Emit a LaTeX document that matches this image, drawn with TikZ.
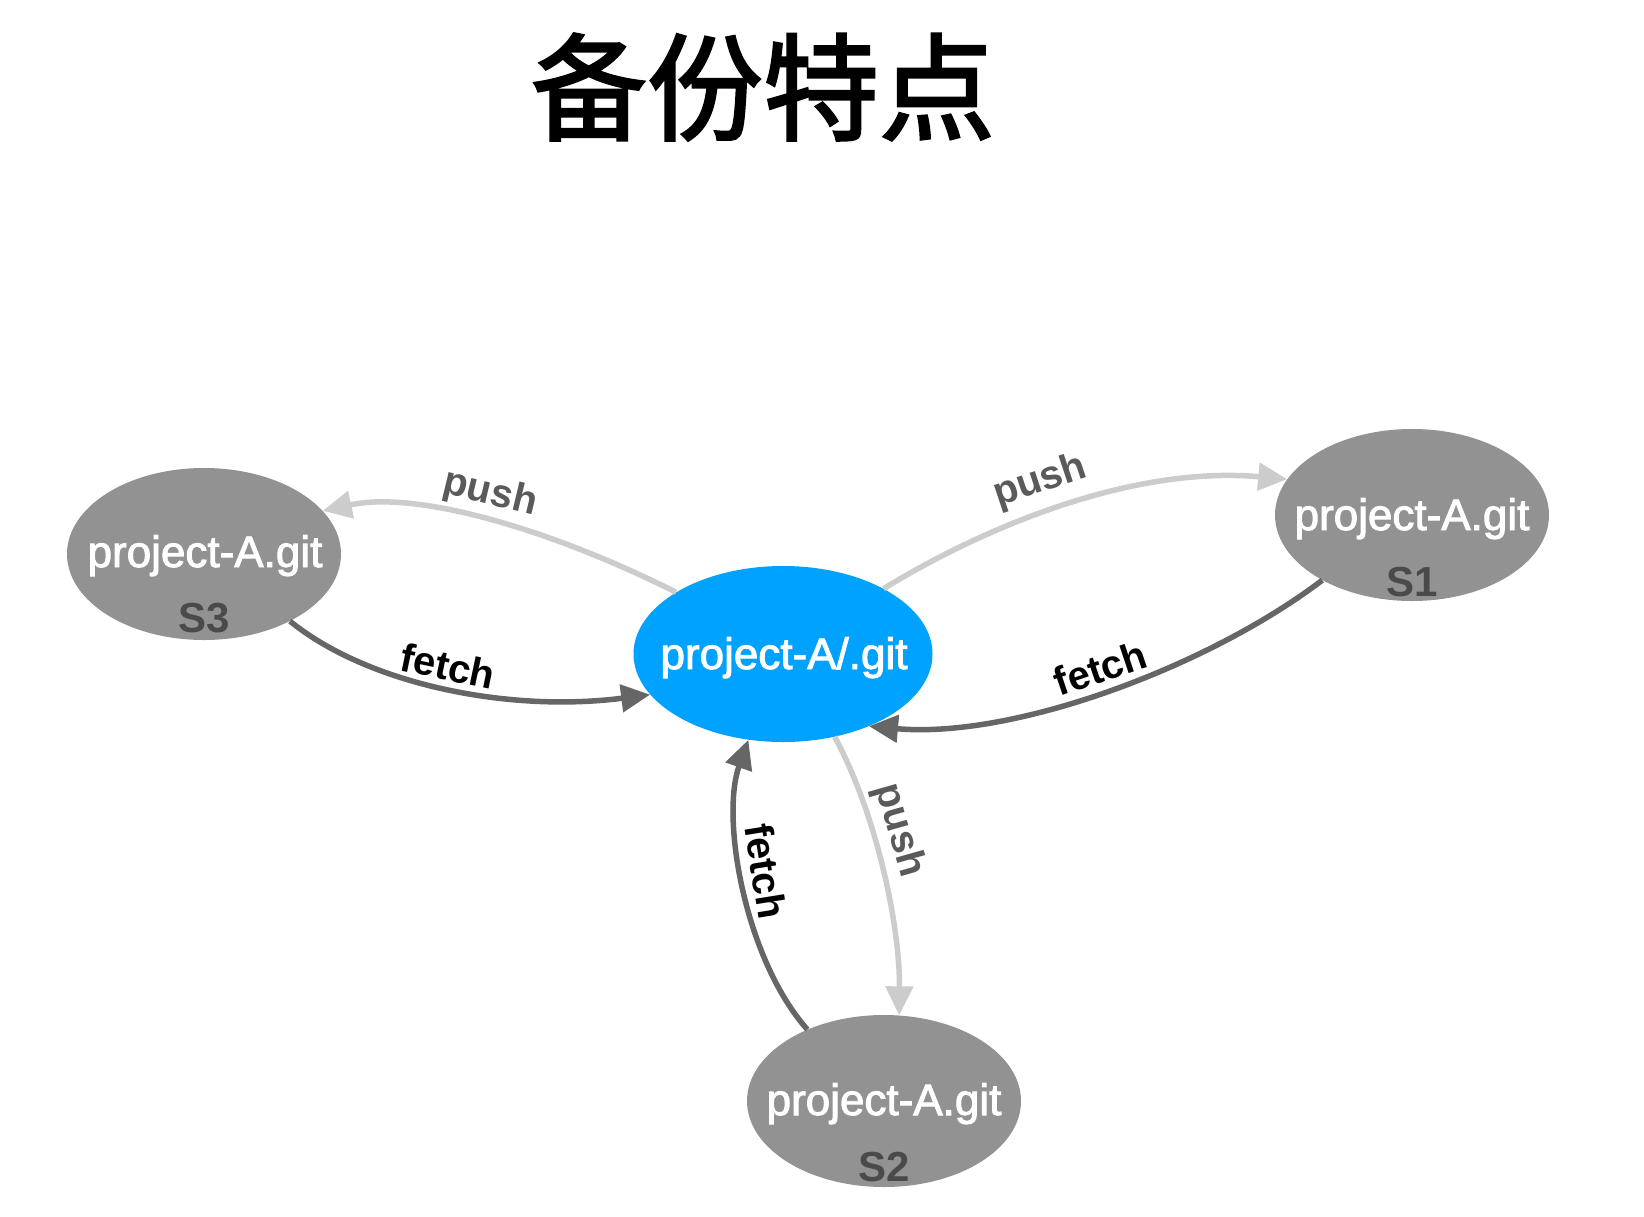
\documentclass[tikz,border=0pt]{standalone}
\usepackage{fontspec}
\setmainfont{Liberation Sans}
\newfontfamily\cjk{Noto Sans CJK SC}[FakeBold=2.2]
\newfontfamily\medsans{Liberation Sans}[FakeBold=2.2]
\usetikzlibrary{shapes.geometric,arrows.meta}
\definecolor{hub}{RGB}{0,162,255}
\definecolor{repo}{RGB}{146,146,146}
\definecolor{slab}{RGB}{74,74,74}
\definecolor{pushline}{RGB}{204,204,204}
\definecolor{pushtext}{RGB}{90,90,90}
\definecolor{fetchline}{RGB}{102,102,102}
\begin{document}
\begin{tikzpicture}[x=1pt,y=-1pt,
 repobox/.style={ellipse, fill=repo, draw=none, minimum width=274pt, minimum height=172pt, inner sep=0pt},
 hubbox/.style={ellipse, fill=hub, draw=none, minimum width=299pt, minimum height=176pt, inner sep=0pt},
 nametext/.style={text=white, font=\medsans\fontsize{44}{48}\selectfont, anchor=base, inner sep=0pt},
 idtext/.style={text=slab, font=\bfseries\fontsize{42}{46}\selectfont, anchor=base, inner sep=0pt},
 pushedge/.style={draw=pushline, line width=5.5pt, -{Triangle[length=29pt,width=27pt]}},
 fetchedge/.style={draw=fetchline, line width=5.5pt, -{Triangle[length=29pt,width=27pt]}},
 pushlabel/.style={text=pushtext, font=\bfseries\fontsize{40}{42}\selectfont, sloped, inner sep=0pt},
 fetchlabel/.style={text=black, font=\bfseries\fontsize{40}{42}\selectfont, sloped, inner sep=0pt},
]
\fill[white] (0,0) rectangle (1644,1216);
\useasboundingbox (0,0) rectangle (1644,1216);

\node[font=\cjk\fontsize{116}{120}\selectfont, inner sep=0pt] (title) at (763,87) {备份特点};

\node[hubbox] (c) at (783,654) {};
\node[repobox] (s3) at (204,554) {};
\node[repobox] (s1) at (1412,515) {};
\node[repobox] (s2) at (884,1101) {};

\node[nametext] (cname) at (784,669) {project-A/.git};
\node[nametext] (s3name) at (205,567) {project-A.git};
\node[idtext] (s3id) at (204,632) {S3};
\node[nametext] (s1name) at (1412,530) {project-A.git};
\node[idtext] (s1id) at (1412,596) {S1};
\node[nametext] (s2name) at (884,1115) {project-A.git};
\node[idtext] (s2id) at (884,1181) {S2};

\draw[pushedge] (c.150) .. controls +(-119,-60) and +(97,-21) .. (s3.20)
  node[pushlabel, pos=0.52, above=5pt] (l1) {push};
\draw[fetchedge] (s3.322) .. controls +(79,64) and +(-140,18) .. (c.197)
  node[fetchlabel, pos=0.49, above=5pt] (l2) {fetch};
\draw[pushedge] (c.33) .. controls +(96,-59) and +(-158,-14) .. (s1.164)
  node[pushlabel, pos=0.47, above=9pt] (l3) {push};
\draw[fetchedge] (s1.216) .. controls +(-113,86) and +(145,13) .. (c.320)
  node[fetchlabel, pos=0.5, above=6pt] (l4) {fetch};
\draw[pushedge] (c.302) .. controls +(44,82) and +(1,-85) .. (s2.80)
  node[pushlabel, pos=0.37, above=4pt] (l5) {push};
\draw[fetchedge] (s2.137) .. controls +(-62,-70) and +(-28,79) .. (c.248)
  node[fetchlabel, pos=0.54, above=7pt] (l6) {fetch};
\end{tikzpicture}
\end{document}
